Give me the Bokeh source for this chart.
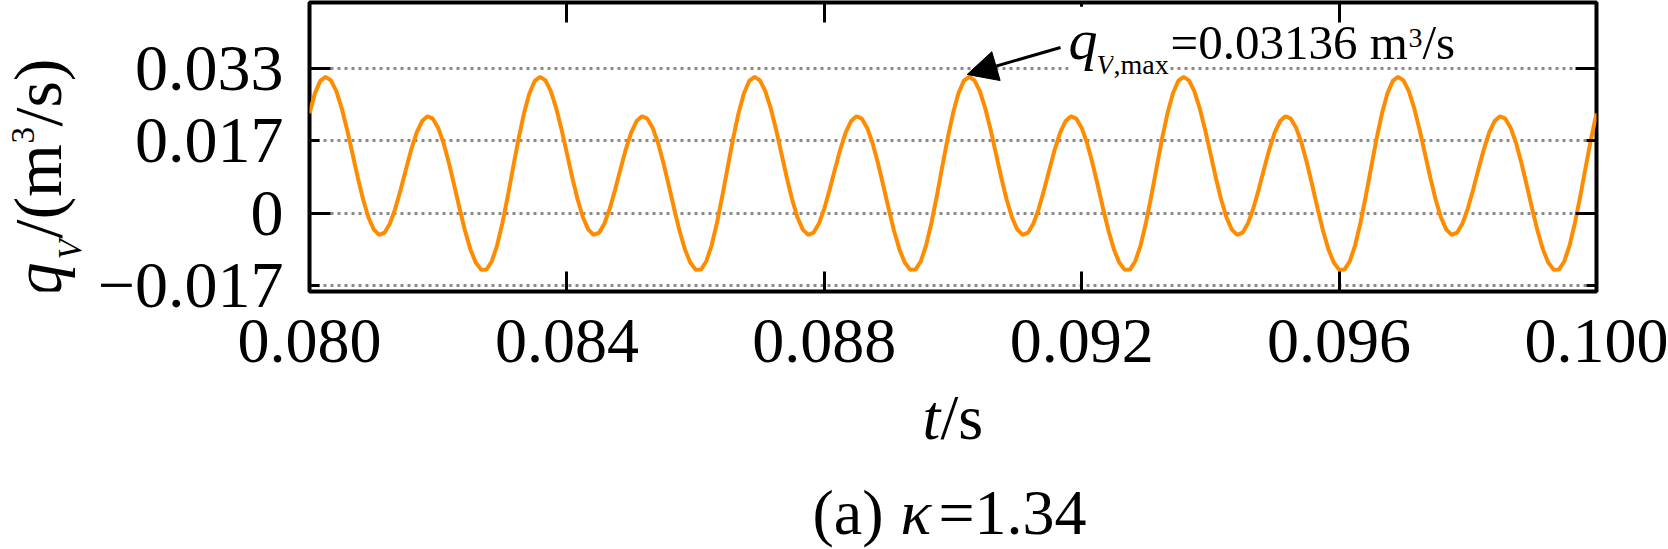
from math import pi
from bokeh.plotting import figure
from bokeh.layouts import row, column
from bokeh.models import Range1d, LinearAxis, FixedTicker, Label, Arrow, NormalHead, ColumnDataSource
from bokeh.embed import file_html
from bokeh.resources import INLINE

# ---- data ----
t_ms = [
    80.0, 80.0833, 80.1667, 80.25, 80.3333, 80.4167, 80.5, 80.5833, 80.6667, 80.75, 80.8333, 80.9167,
    81.0, 81.0833, 81.1667, 81.25, 81.3333, 81.4167, 81.5, 81.5833, 81.6667, 81.75, 81.8333, 81.9167,
    82.0, 82.0833, 82.1667, 82.25, 82.3333, 82.4167, 82.5, 82.5833, 82.6667, 82.75, 82.8333, 82.9167,
    83.0, 83.0833, 83.1667, 83.25, 83.3333, 83.4167, 83.5, 83.5833, 83.6667, 83.75, 83.8333, 83.9167,
    84.0, 84.0833, 84.1667, 84.25, 84.3333, 84.4167, 84.5, 84.5833, 84.6667, 84.75, 84.8333, 84.9167,
    85.0, 85.0833, 85.1667, 85.25, 85.3333, 85.4167, 85.5, 85.5833, 85.6667, 85.75, 85.8333, 85.9167,
    86.0, 86.0833, 86.1667, 86.25, 86.3333, 86.4167, 86.5, 86.5833, 86.6667, 86.75, 86.8333, 86.9167,
    87.0, 87.0833, 87.1667, 87.25, 87.3333, 87.4167, 87.5, 87.5833, 87.6667, 87.75, 87.8333, 87.9167,
    88.0, 88.0833, 88.1667, 88.25, 88.3333, 88.4167, 88.5, 88.5833, 88.6667, 88.75, 88.8333, 88.9167,
    89.0, 89.0833, 89.1667, 89.25, 89.3333, 89.4167, 89.5, 89.5833, 89.6667, 89.75, 89.8333, 89.9167,
    90.0, 90.0833, 90.1667, 90.25, 90.3333, 90.4167, 90.5, 90.5833, 90.6667, 90.75, 90.8333, 90.9167,
    91.0, 91.0833, 91.1667, 91.25, 91.3333, 91.4167, 91.5, 91.5833, 91.6667, 91.75, 91.8333, 91.9167,
    92.0, 92.0833, 92.1667, 92.25, 92.3333, 92.4167, 92.5, 92.5833, 92.6667, 92.75, 92.8333, 92.9167,
    93.0, 93.0833, 93.1667, 93.25, 93.3333, 93.4167, 93.5, 93.5833, 93.6667, 93.75, 93.8333, 93.9167,
    94.0, 94.0833, 94.1667, 94.25, 94.3333, 94.4167, 94.5, 94.5833, 94.6667, 94.75, 94.8333, 94.9167,
    95.0, 95.0833, 95.1667, 95.25, 95.3333, 95.4167, 95.5, 95.5833, 95.6667, 95.75, 95.8333, 95.9167,
    96.0, 96.0833, 96.1667, 96.25, 96.3333, 96.4167, 96.5, 96.5833, 96.6667, 96.75, 96.8333, 96.9167,
    97.0, 97.0833, 97.1667, 97.25, 97.3333, 97.4167, 97.5, 97.5833, 97.6667, 97.75, 97.8333, 97.9167,
    98.0, 98.0833, 98.1667, 98.25, 98.3333, 98.4167, 98.5, 98.5833, 98.6667, 98.75, 98.8333, 98.9167,
    99.0, 99.0833, 99.1667, 99.25, 99.3333, 99.4167, 99.5, 99.5833, 99.6667, 99.75, 99.8333, 99.9167,
    100.0,
]

q_v = [
    0.02296, 0.02751, 0.03041,
    0.03136, 0.03054, 0.02806, 0.02417, 0.01926, 0.01376, 0.00822, 0.00315, -0.00098, -0.00377,
    -0.00497, -0.00447, -0.00237, 0.00107, 0.00543, 0.01018, 0.01474, 0.01858, 0.02119, 0.02228,
    0.02173, 0.01961, 0.01612, 0.01156, 0.00638, 0.00102, -0.00402, -0.00827, -0.01135, -0.01298,
    -0.01297, -0.01104, -0.00732, -0.00213, 0.00407, 0.01070, 0.01720, 0.02296, 0.02751, 0.03041,
    0.03136, 0.03054, 0.02806, 0.02417, 0.01926, 0.01376, 0.00822, 0.00315, -0.00098, -0.00377,
    -0.00497, -0.00447, -0.00237, 0.00107, 0.00543, 0.01018, 0.01474, 0.01858, 0.02119, 0.02228,
    0.02173, 0.01961, 0.01612, 0.01156, 0.00638, 0.00102, -0.00402, -0.00827, -0.01135, -0.01298,
    -0.01297, -0.01104, -0.00732, -0.00213, 0.00407, 0.01070, 0.01720, 0.02296, 0.02751, 0.03041,
    0.03136, 0.03054, 0.02806, 0.02417, 0.01926, 0.01376, 0.00822, 0.00315, -0.00098, -0.00377,
    -0.00497, -0.00447, -0.00237, 0.00107, 0.00543, 0.01018, 0.01474, 0.01858, 0.02119, 0.02228,
    0.02173, 0.01961, 0.01612, 0.01156, 0.00638, 0.00102, -0.00402, -0.00827, -0.01135, -0.01298,
    -0.01297, -0.01104, -0.00732, -0.00213, 0.00407, 0.01070, 0.01720, 0.02296, 0.02751, 0.03041,
    0.03136, 0.03054, 0.02806, 0.02417, 0.01926, 0.01376, 0.00822, 0.00315, -0.00098, -0.00377,
    -0.00497, -0.00447, -0.00237, 0.00107, 0.00543, 0.01018, 0.01474, 0.01858, 0.02119, 0.02228,
    0.02173, 0.01961, 0.01612, 0.01156, 0.00638, 0.00102, -0.00402, -0.00827, -0.01135, -0.01298,
    -0.01297, -0.01104, -0.00732, -0.00213, 0.00407, 0.01070, 0.01720, 0.02296, 0.02751, 0.03041,
    0.03136, 0.03054, 0.02806, 0.02417, 0.01926, 0.01376, 0.00822, 0.00315, -0.00098, -0.00377,
    -0.00497, -0.00447, -0.00237, 0.00107, 0.00543, 0.01018, 0.01474, 0.01858, 0.02119, 0.02228,
    0.02173, 0.01961, 0.01612, 0.01156, 0.00638, 0.00102, -0.00402, -0.00827, -0.01135, -0.01298,
    -0.01297, -0.01104, -0.00732, -0.00213, 0.00407, 0.01070, 0.01720, 0.02296, 0.02751, 0.03041,
    0.03136, 0.03054, 0.02806, 0.02417, 0.01926, 0.01376, 0.00822, 0.00315, -0.00098, -0.00377,
    -0.00497, -0.00447, -0.00237, 0.00107, 0.00543, 0.01018, 0.01474, 0.01858, 0.02119, 0.02228,
    0.02173, 0.01961, 0.01612, 0.01156, 0.00638, 0.00102, -0.00402, -0.00827, -0.01135, -0.01298,
    -0.01297, -0.01104, -0.00732, -0.00213, 0.00407, 0.01070, 0.01720, 0.02296,
]

x_ticks = [0.080, 0.084, 0.088, 0.092, 0.096, 0.100]
x_tick_labels = ["0.080", "0.084", "0.088", "0.092", "0.096", "0.100"]
y_ticks = [-1 / 60, 0.0, 1 / 60, 1 / 30]
y_tick_labels = ["\u22120.017", "0", "0.017", "0.033"]
y_long_ticks = [0.0, 1 / 30]
q_max_text = "=0.03136 m"

SERIF = "Liberation Serif"
ORANGE = "#FF8C00"

n = min(len(t_ms), len(q_v))
src = ColumnDataSource(dict(t=[m / 1000.0 for m in t_ms[:n]], q=q_v[:n]))

LEFT_W, TOP_H = 90, 382
W, H = 1668, 549

p = figure(width=W - LEFT_W, height=TOP_H,
           x_range=Range1d(0.080, 0.100), y_range=Range1d(-0.0180, 0.04844),
           output_backend="svg", toolbar_location=None,
           min_border_left=309 - LEFT_W, min_border_right=72, min_border_top=2, min_border_bottom=91,
           background_fill_color="white", border_fill_color="white")

p.outline_line_color = "black"
p.outline_line_width = 4

# grid
p.xgrid.grid_line_color = None
yt = FixedTicker(ticks=y_ticks, minor_ticks=y_long_ticks)
p.ygrid.ticker = yt
p.ygrid.grid_line_color = "#8a8a8a"
p.ygrid.grid_line_width = 3
p.ygrid.grid_line_dash = "3 4"

def style_axis(ax, labels, tick_in, minor_in, font_size, standoff):
    ax.axis_line_color = None
    ax.major_tick_in = tick_in
    ax.major_tick_out = 0
    ax.minor_tick_in = minor_in
    ax.minor_tick_out = 0
    ax.major_tick_line_width = 3
    ax.minor_tick_line_width = 3
    ax.major_tick_line_color = "black"
    ax.minor_tick_line_color = "black"
    ax.major_label_overrides = labels
    ax.major_label_text_font = SERIF
    ax.major_label_text_font_size = font_size
    ax.major_label_text_color = "black"
    ax.major_label_standoff = standoff

# bottom x axis
xb = p.xaxis[0]
xb.ticker = FixedTicker(ticks=x_ticks, minor_ticks=[])
style_axis(xb, dict(zip(x_ticks, x_tick_labels)), 20, 0, "64px", 28)

# left y axis
yl = p.yaxis[0]
yl.ticker = yt
style_axis(yl, dict(zip(y_ticks, y_tick_labels)), 10, 21, "66px", 26)

# top and right mirrored axes
xa = LinearAxis(ticker=FixedTicker(ticks=x_ticks, minor_ticks=[]))
style_axis(xa, {v: "" for v in x_ticks}, 20, 0, "1px", 0)
p.add_layout(xa, "above")
yr = LinearAxis(ticker=FixedTicker(ticks=y_ticks, minor_ticks=y_long_ticks))
style_axis(yr, {v: "" for v in y_ticks}, 10, 21, "1px", 0)
p.add_layout(yr, "right")

# curve
p.line("t", "q", source=src, line_color=ORANGE, line_width=4)

def lab(fig, x, y, text, size, italic=False, angle=0.0, align="left", bg=None, units="data"):
    kw = dict(x=x, y=y, text=text, text_font=SERIF, text_font_size=size,
              text_font_style="italic" if italic else "normal", text_color="black",
              text_align=align, text_baseline="alphabetic", angle=angle,
              x_units=units, y_units=units)
    if bg is not None:
        kw["background_fill_color"] = bg
    fig.add_layout(Label(**kw))

# annotation of the maximum
p.add_layout(Arrow(end=NormalHead(size=30, fill_color="black", line_color="black"),
                   x_start=0.091671, y_start=0.0381, x_end=0.09022, y_end=0.03189,
                   line_color="black", line_width=3))
lab(p, 0.091795, 0.040011, "q", "58px", italic=True, bg="white")
lab(p, 0.092230, 0.034148, "V", "28px", italic=True, bg="white")
lab(p, 0.092494, 0.034148, ",max", "28px", bg="white")
lab(p, 0.093380, 0.039287, q_max_text, "49px")
lab(p, 0.097078, 0.040355, "3", "28px")
lab(p, 0.097296, 0.039287, "/s", "49px")

def blank(width, height):
    f = figure(width=width, height=height, x_range=Range1d(0, 1), y_range=Range1d(0, 1),
               output_backend="svg", toolbar_location=None,
               x_axis_location=None, y_axis_location=None,
               min_border_left=0, min_border_right=0, min_border_top=0, min_border_bottom=0,
               background_fill_color="white", border_fill_color="white")
    f.outline_line_color = None
    f.grid.visible = False
    return f

C = "canvas"
# y axis title  q_V/(m^3/s)
pl = blank(LEFT_W, TOP_H)
lab(pl, 37, 296, "q", "68px", italic=True, angle=pi / 2, units=C)
lab(pl, 69, 259, "V", "33px", italic=True, angle=pi / 2, units=C)
lab(pl, 37, 238, "/(m", "68px", angle=pi / 2, units=C)
lab(pl, 22, 143, "3", "33px", angle=pi / 2, units=C)
lab(pl, 37, 126, "/s)", "68px", angle=pi / 2, units=C)

# x axis title and caption
pb = blank(W, H - TOP_H)
lab(pb, 922, 35, "t", "64px", italic=True, units=C)
lab(pb, 940, 35, "/s", "64px", units=C)
lab(pb, 812, 130, "(a)", "64px", units=C)
lab(pb, 900, 130, "\u03ba", "64px", italic=True, units=C)
lab(pb, 938, 130, "=1.34", "64px", units=C)

layout = column(row(pl, p), pb)

open("out.html", "w").write(file_html(layout, INLINE))
